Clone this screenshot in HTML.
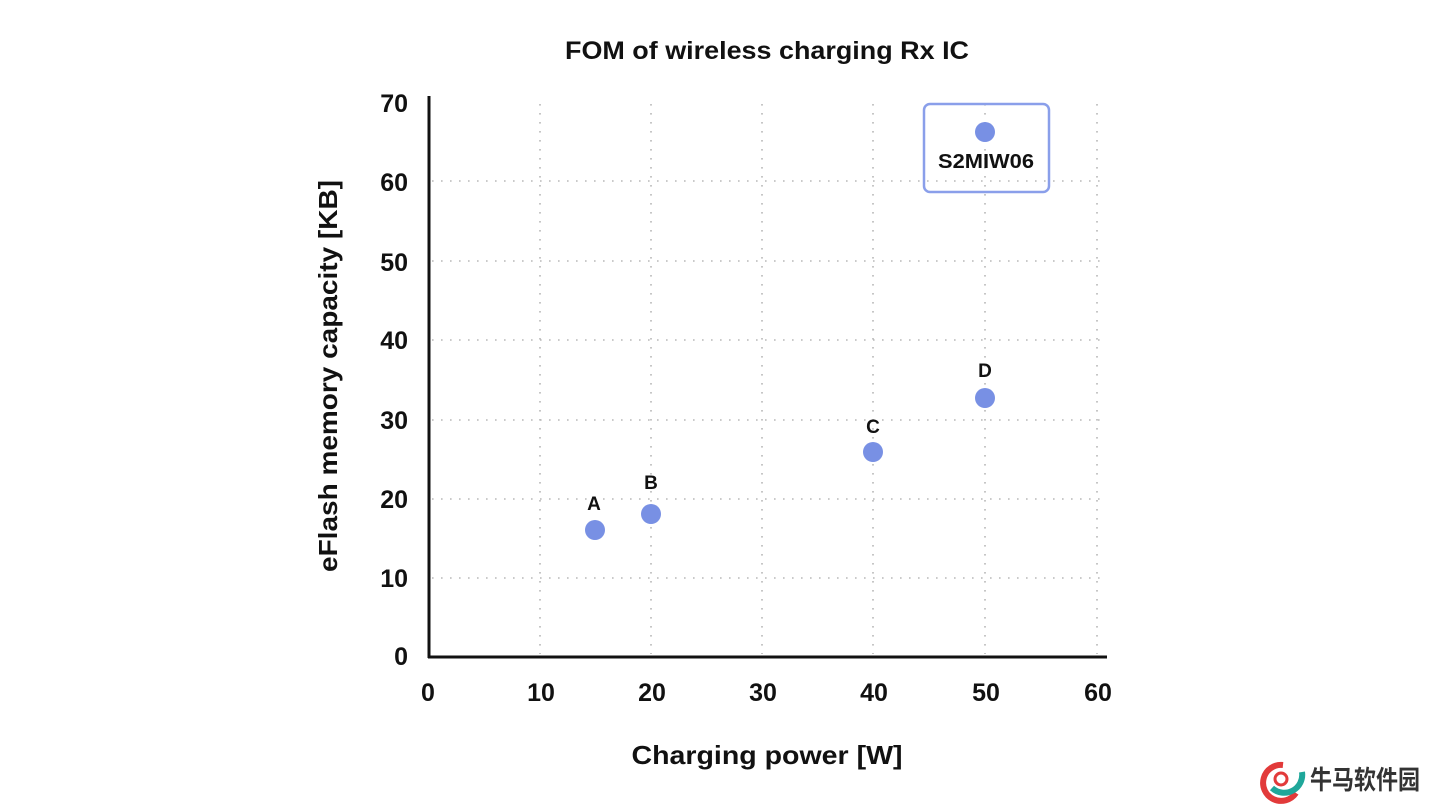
<!DOCTYPE html>
<html><head><meta charset="utf-8"><style>
html,body{margin:0;padding:0;background:#fff;}
svg{display:block;}
text{font-family:"Liberation Sans","Noto Sans CJK SC",sans-serif;fill:#111;}
</style></head><body>
<svg width="1440" height="807" viewBox="0 0 1440 807" xmlns="http://www.w3.org/2000/svg">
<rect width="1440" height="807" fill="#fff"/>
<text x="767" y="59" text-anchor="middle" font-size="25" font-weight="600" textLength="404" lengthAdjust="spacingAndGlyphs">FOM of wireless charging Rx IC</text>
<g stroke="#b8b8b8" stroke-width="1.6" stroke-dasharray="1.6 7.4" fill="none">
<line x1="432" y1="578" x2="1100" y2="578"/>
<line x1="432" y1="499" x2="1100" y2="499"/>
<line x1="432" y1="420" x2="1100" y2="420"/>
<line x1="432" y1="340" x2="1100" y2="340"/>
<line x1="432" y1="261" x2="1100" y2="261"/>
<line x1="432" y1="181" x2="1100" y2="181"/>
<line x1="540" y1="104" x2="540" y2="654"/>
<line x1="651" y1="104" x2="651" y2="654"/>
<line x1="762" y1="104" x2="762" y2="654"/>
<line x1="873" y1="104" x2="873" y2="654"/>
<line x1="985" y1="104" x2="985" y2="654"/>
<line x1="1097" y1="104" x2="1097" y2="654"/>
</g>
<line x1="429" y1="96" x2="429" y2="658" stroke="#111" stroke-width="3"/>
<line x1="428" y1="657" x2="1107" y2="657" stroke="#111" stroke-width="3"/>
<g font-size="25" font-weight="700" text-anchor="end">
<text x="408" y="665">0</text>
<text x="408" y="587">10</text>
<text x="408" y="508">20</text>
<text x="408" y="429">30</text>
<text x="408" y="349">40</text>
<text x="408" y="271">50</text>
<text x="408" y="191">60</text>
<text x="408" y="112">70</text>
</g>
<g font-size="25" font-weight="700" text-anchor="middle">
<text x="428" y="701">0</text>
<text x="541" y="701">10</text>
<text x="652" y="701">20</text>
<text x="763" y="701">30</text>
<text x="874" y="701">40</text>
<text x="986" y="701">50</text>
<text x="1098" y="701">60</text>
</g>
<text x="767" y="764" text-anchor="middle" font-size="26" font-weight="600" textLength="271" lengthAdjust="spacingAndGlyphs">Charging power [W]</text>
<text transform="translate(337,376) rotate(-90)" text-anchor="middle" font-size="26" font-weight="600" textLength="392" lengthAdjust="spacingAndGlyphs">eFlash memory capacity [KB]</text>
<rect x="924" y="104" width="125" height="88" rx="6" ry="6" fill="none" stroke="#8a9fea" stroke-width="2.5"/>
<g fill="#7890e4">
<circle cx="595" cy="530" r="10"/>
<circle cx="651" cy="514" r="10"/>
<circle cx="873" cy="452" r="10"/>
<circle cx="985" cy="398" r="10"/>
<circle cx="985" cy="132" r="10"/>
</g>
<g font-size="19" font-weight="700" text-anchor="middle">
<text x="594" y="510">A</text>
<text x="651" y="489">B</text>
<text x="873" y="433">C</text>
<text x="985" y="377">D</text>
<text x="986" y="168" font-size="20" textLength="96" lengthAdjust="spacingAndGlyphs">S2MIW06</text>
</g>
<g>
<path d="M1283,765 A18,18 0 1 0 1296,793" fill="none" stroke="#e23a3a" stroke-width="6"/>
<path d="M1272,788 A18,18 0 0 0 1302,772" fill="none" stroke="#1fa79a" stroke-width="6"/>
<circle cx="1281" cy="779" r="6" fill="none" stroke="#e23a3a" stroke-width="3"/>
<text x="1310" y="789" font-size="26" font-weight="700" style="fill:#333" textLength="110" lengthAdjust="spacingAndGlyphs">牛马软件园</text>
</g>
</svg>
</body></html>
